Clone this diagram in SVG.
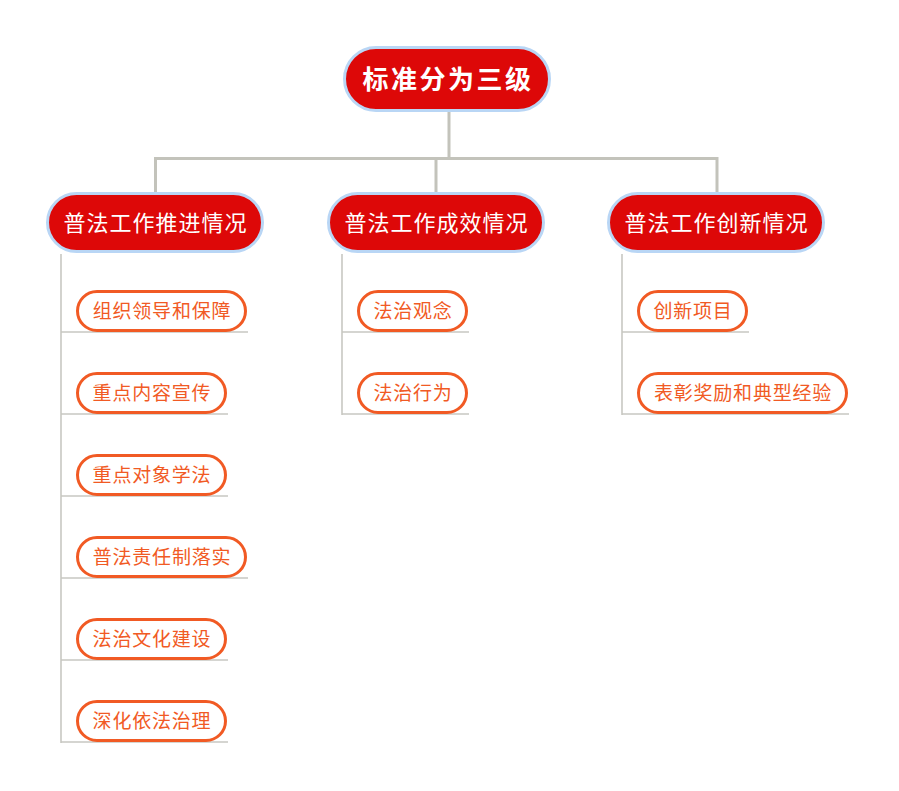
<svg xmlns="http://www.w3.org/2000/svg" width="899" height="791" viewBox="0 0 899 791">
<style>
.bg{fill:#ffffff}
.main{fill:#dd0808;stroke:#b9d6f5;stroke-width:3}
.t0{font-family:"Noto Sans CJK SC","Noto Sans",sans-serif;font-size:26px;font-weight:bold;fill:#ffffff;text-anchor:middle;dominant-baseline:central;letter-spacing:2.5px}
.t1{font-family:"Noto Sans CJK SC","Noto Sans",sans-serif;font-size:22px;fill:#ffffff;text-anchor:middle;dominant-baseline:central;letter-spacing:1px}
.leaf{fill:#ffffff;stroke:#f15a24;stroke-width:3}
.t2{font-family:"Noto Sans CJK SC","Noto Sans",sans-serif;font-size:19px;fill:#f15a24;text-anchor:middle;dominant-baseline:central;letter-spacing:0.8px}
.c1{fill:none;stroke:#c3c3bb;stroke-width:3}
.c2{fill:none;stroke:#c8c8c2;stroke-width:1.6}
</style>
<rect class="bg" x="0" y="0" width="899" height="791"/>
<g id="connectors">
<path class="c1" d="M449 112 V158.5 M155.5 192 V158.5 H717 V192 M436 158.5 V192"/>
<path class="c2" d="M61 254 V743 M61 332 H248 M61 414 H228 M61 496 H228 M61 578 H248 M61 660 H228 M61 742 H228"/>
<path class="c2" d="M342 254 V415 M342 332 H469 M342 414 H469"/>
<path class="c2" d="M622 254 V415 M622 332 H749 M622 414 H849"/>
</g>
<g id="root"><rect class="main" x="344.5" y="47.5" width="205" height="63" rx="31.5"/><text class="t0" x="448" y="77">标准分为三级</text></g>
<g id="n1"><rect class="main" x="47.5" y="193.5" width="215" height="58" rx="29"/><text class="t1" x="155.5" y="221">普法工作推进情况</text></g>
<g id="n2"><rect class="main" x="328.5" y="193.5" width="215" height="58" rx="29"/><text class="t1" x="436.5" y="221">普法工作成效情况</text></g>
<g id="n3"><rect class="main" x="608.5" y="193.5" width="215" height="58" rx="29"/><text class="t1" x="716.5" y="221">普法工作创新情况</text></g>
<g id="n1a"><rect class="leaf" x="77.5" y="291.5" width="168" height="39" rx="19.5"/><text class="t2" x="162" y="309.5">组织领导和保障</text></g>
<g id="n1b"><rect class="leaf" x="77.5" y="373.5" width="148" height="39" rx="19.5"/><text class="t2" x="152" y="391.5">重点内容宣传</text></g>
<g id="n1c"><rect class="leaf" x="77.5" y="455.5" width="148" height="39" rx="19.5"/><text class="t2" x="152" y="473.5">重点对象学法</text></g>
<g id="n1d"><rect class="leaf" x="77.5" y="537.5" width="168" height="39" rx="19.5"/><text class="t2" x="162" y="555.5">普法责任制落实</text></g>
<g id="n1e"><rect class="leaf" x="77.5" y="619.5" width="148" height="39" rx="19.5"/><text class="t2" x="152" y="637.5">法治文化建设</text></g>
<g id="n1f"><rect class="leaf" x="77.5" y="701.5" width="148" height="39" rx="19.5"/><text class="t2" x="152" y="719.5">深化依法治理</text></g>
<g id="n2a"><rect class="leaf" x="358.5" y="291.5" width="108" height="39" rx="19.5"/><text class="t2" x="413" y="309.5">法治观念</text></g>
<g id="n2b"><rect class="leaf" x="358.5" y="373.5" width="108" height="39" rx="19.5"/><text class="t2" x="413" y="391.5">法治行为</text></g>
<g id="n3a"><rect class="leaf" x="638.5" y="291.5" width="108" height="39" rx="19.5"/><text class="t2" x="693" y="309.5">创新项目</text></g>
<g id="n3b"><rect class="leaf" x="638.5" y="373.5" width="208" height="39" rx="19.5"/><text class="t2" x="743" y="391.5">表彰奖励和典型经验</text></g>
</svg>
